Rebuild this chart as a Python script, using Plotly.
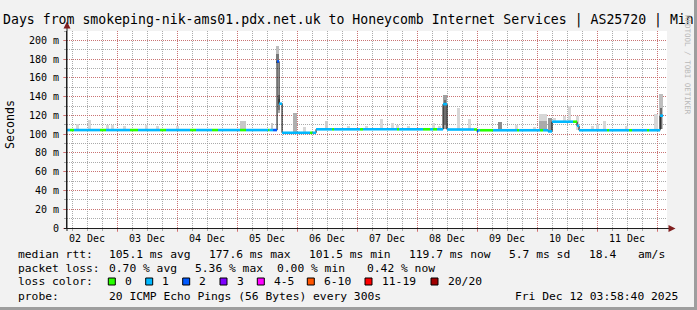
import plotly.graph_objects as go
from datetime import datetime, timedelta

# ---------------- data ----------------
START = "2025-12-02 03:58:40"
END = "2025-12-12 03:58:40"

day_ticks = ["2025-12-%02d" % d for d in range(3, 13)]
day_labels = ["%02d Dec" % d for d in range(2, 12)]

y_ticks = [0, 20, 40, 60, 80, 100, 120, 140, 160, 180, 200]
y_labels = ["0"] + ["%d m" % v for v in y_ticks[1:]]

# median rtt (ms) as step segments: start time "DD HH:MM", value, loss bin index
seg_time = ["02 03:59", "02 05:10", "02 06:48", "02 17:10", "02 19:35", "03 05:10", "03 08:24",
            "03 17:12", "03 19:36", "04 05:12", "04 07:36", "04 14:00", "04 16:24", "05 01:12",
            "05 03:36", "05 12:24", "05 13:00", "05 14:24", "05 16:00", "05 16:48", "05 18:00",
            "06 05:12", "06 06:12", "06 07:36", "06 14:00", "06 14:48", "07 01:12", "07 02:24",
            "07 16:00", "07 16:48", "08 02:24", "08 05:12", "08 06:24", "08 08:00", "08 10:24",
            "08 12:00", "08 22:48", "09 00:00", "09 00:24", "09 01:12", "09 06:24", "09 16:00",
            "09 16:48", "10 01:12", "10 02:24", "10 04:24", "10 06:00", "10 14:24", "10 16:00",
            "10 16:48", "11 04:00", "11 04:48", "11 12:48", "11 14:00", "11 20:00", "11 20:48",
            "12 01:12"]
seg_median = [104.4, 104.4, 104.4, 104.4, 104.4, 104.4, 104.4,
              104.4, 104.4, 104.4, 104.4, 104.4, 104.4, 104.4,
              104.4, 104.4, 104.4, 104.4, 177.6, 132.5, 101.5,
              101.5, 101.5, 105.2, 105.2, 105.2, 105.2, 105.2,
              105.2, 105.2, 105.2, 105.2, 105.2, 105.2, 132.0,
              105.0, 105.0, 102.8, 104.2, 104.2, 104.2, 104.2,
              104.2, 104.2, 104.2, 103.0, 113.3, 113.3, 109.0,
              104.2, 104.2, 104.2, 104.2, 104.2, 104.2, 104.2,
              119.7]
seg_loss = [1, 0, 1, 0, 1, 0, 1,
            0, 1, 0, 1, 0, 1, 0,
            1, 0, 1, 2, 2, 1, 1,
            0, 1, 1, 0, 1, 0, 1,
            0, 1, 0, 1, 0, 1, 1,
            1, 0, 2, 1, 0, 1, 0,
            1, 0, 1, 1, 1, 0, 1,
            1, 0, 1, 0, 1, 0, 1,
            1]
median_end = "12 02:24"

# smoke (ping spread): centre time, low ms, high ms, grey level, width (hours)
smoke_time = ["02 08:00", "02 13:10", "02 20:20", "02 22:20", "03 02:50", "03 11:35", "03 16:00",
              "04 00:00", "05 02:20", "05 14:00", "05 16:00", "05 16:00", "05 16:48", "05 16:48",
              "05 23:10", "06 03:10", "06 11:35", "06 20:45", "07 03:35", "07 09:35", "07 14:00",
              "07 16:00", "07 20:45", "08 06:25", "08 09:10", "08 11:10", "08 11:10", "08 16:45",
              "08 21:10", "09 09:10", "09 15:35", "09 23:10", "10 02:20", "10 02:20", "10 05:10",
              "10 07:10", "10 11:10", "10 13:10", "10 16:20", "10 22:00", "11 00:00", "11 03:10",
              "11 11:35", "11 23:35", "12 01:35", "12 01:35"]
smoke_lo = [104.4, 104.4, 104.4, 104.4, 104.4, 104.4, 104.4,
            104.4, 104.4, 104.4, 176.0, 176.0, 122.7, 126.0,
            101.5, 101.5, 105.2, 105.2, 105.2, 105.2, 105.2,
            105.2, 105.2, 105.2, 105.2, 105.2, 110.0, 105.0,
            105.0, 104.2, 104.2, 104.2, 104.2, 104.2, 103.0,
            113.3, 113.3, 113.3, 104.2, 104.2, 104.2, 104.2,
            104.2, 104.2, 106.0, 106.0]
smoke_hi = [111.0, 115.0, 110.0, 110.0, 109.0, 110.0, 109.0,
            109.0, 114.5, 112.0, 194.0, 186.0, 142.0, 138.0,
            122.7, 108.0, 114.0, 109.0, 109.0, 116.0, 112.0,
            110.0, 109.0, 112.0, 109.0, 142.0, 136.0, 128.0,
            116.0, 112.5, 110.0, 108.0, 121.6, 114.0, 117.0,
            117.5, 119.6, 130.0, 119.6, 109.0, 111.0, 114.0,
            109.0, 121.7, 143.0, 128.0]
smoke_grey = [215, 215, 215, 215, 215, 215, 215,
              215, 200, 200, 190, 120, 170, 120,
              175, 215, 205, 215, 215, 215, 215,
              215, 215, 215, 215, 160, 110, 215,
              215, 140, 215, 215, 215, 170, 150,
              215, 215, 215, 215, 215, 215, 215,
              215, 215, 190, 110]
smoke_width_h = [1.2, 1.2, 1.2, 1.2, 1.2, 1.2, 1.2,
                 1.2, 2.4, 1.0, 1.2, 1.2, 1.0, 1.0,
                 1.4, 1.2, 1.2, 1.2, 1.2, 1.2, 1.2,
                 1.2, 1.2, 1.2, 1.2, 1.4, 1.0, 1.2,
                 1.2, 1.6, 1.2, 1.2, 3.0, 3.0, 1.6,
                 1.2, 1.2, 1.2, 1.2, 1.2, 1.2, 1.2,
                 1.2, 1.6, 1.4, 1.0]

loss_names = ["0", "1", "2", "3", "4-5", "6-10", "11-19", "20/20"]
loss_colors = ["#26ff00", "#00b8ff", "#0059ff", "#7e00ff", "#ff00ff", "#ff5500", "#ff0000", "#a00000"]

stats_rtt = ["105.1 ms avg", "177.6 ms max", "101.5 ms min", "119.7 ms now", "5.7 ms sd", "18.4", "am/s"]
stats_loss = ["0.70 % avg", "5.36 % max", "0.00 % min", "0.42 % now"]
probe_text = "20 ICMP Echo Pings (56 Bytes) every 300s"
stamp_text = "Fri Dec 12 03:58:40 2025"
title_text = "Days from smokeping-nik-ams01.pdx.net.uk to Honeycomb Internet Services | AS25720 | Min"

# ---------------- helpers ----------------
def t(s):
    d, hm = s.split()
    h, m = hm.split(":")
    return datetime(2025, 12, int(d), int(h), int(m))

W, H = 697, 310
L, R, T, B = 67, 30, 31, 82
PW, PH = W - L - R, H - T - B

def fx(px):
    return (px - L) / PW

def fy(py):
    return (H - B - py) / PH

MONO = "DejaVu Sans Mono"
FS = 11.3

fig = go.Figure()

# smoke
for i in range(len(smoke_time)):
    g = smoke_grey[i]
    fig.add_trace(go.Bar(
        x=[t(smoke_time[i])], y=[smoke_hi[i] - smoke_lo[i]], base=[smoke_lo[i]],
        width=[smoke_width_h[i] * 3600 * 1000],
        marker=dict(color="rgb(%d,%d,%d)" % (g, g, g), line=dict(width=0)),
        showlegend=False, hoverinfo="skip"))

# black median line (all steps)
xs = [t(s) for s in seg_time] + [t(median_end)]
ys = seg_median + [seg_median[-1]]
fig.add_trace(go.Scatter(x=xs, y=ys, mode="lines", line=dict(color="#000000", width=1, shape="hv"),
                         showlegend=False, hoverinfo="skip"))

# coloured median by loss
for k in range(len(loss_colors)):
    cx, cy = [], []
    for i in range(len(seg_time)):
        if seg_loss[i] != k:
            continue
        t0 = t(seg_time[i])
        t1 = xs[i + 1]
        cx += [t0, t1, None]
        cy += [seg_median[i], seg_median[i], None]
    if cx:
        fig.add_trace(go.Scatter(x=cx, y=cy, mode="lines", line=dict(color=loss_colors[k], width=2.6),
                                 showlegend=False, hoverinfo="skip", connectgaps=False))

GRID = "rgba(143,143,143,0.75)"
MGRID = "rgba(222,79,79,0.6)"

fig.update_layout(
    width=W, height=H, margin=dict(l=L, r=R, t=T, b=B, pad=0),
    paper_bgcolor="#f2f2f2", plot_bgcolor="#ffffff",
    barmode="overlay", bargap=0, showlegend=False,
    font=dict(family=MONO, size=10, color="#000000"),
    xaxis=dict(type="date", range=[START, END], tickmode="array", tickvals=day_ticks, ticktext=day_labels,
               ticklabelshift=-30, ticklabelstandoff=-2, showgrid=True, gridcolor=MGRID, griddash="1px,1px",
               gridwidth=1, ticks="outside", ticklen=3, tickcolor=MGRID, showline=True, linecolor="#1f1f1f",
               linewidth=1, zeroline=False, tickfont=dict(family=MONO, size=10),
               minor=dict(dtick=6 * 3600 * 1000, tick0="2025-12-02", showgrid=True, gridcolor=GRID,
                          griddash="1px,1px", gridwidth=1, ticks="outside", ticklen=2, tickcolor=GRID)),
    yaxis=dict(range=[0, 210], tickmode="array", tickvals=y_ticks, ticktext=y_labels,
               showgrid=True, gridcolor=MGRID, griddash="1px,1px", gridwidth=1,
               ticks="outside", ticklen=3, tickcolor=MGRID, showline=True, linecolor="#1f1f1f", linewidth=1,
               zeroline=False, tickfont=dict(family=MONO, size=10), ticklabelstandoff=2,
               minor=dict(dtick=10, showgrid=True, gridcolor=GRID, griddash="1px,1px", gridwidth=1,
                          ticks="outside", ticklen=2, tickcolor=GRID)),
)

ann = []

def text(px, py, s, size=FS, anchor="left", color="#000000", angle=0):
    ann.append(dict(xref="paper", yref="paper", x=fx(px), y=fy(py), text=s, showarrow=False,
                    xanchor=anchor, yanchor="middle", textangle=angle,
                    font=dict(family=MONO, size=size, color=color)))

text(1, 19.5, title_text, size=13.2)
text(10, 125, "Seconds", size=11.6, anchor="center", angle=-90)
text(688, 65, "RRDTOOL / TOBI OETIKER", size=7.5, anchor="center", color="#b8b8b8", angle=90)

# legend lines
text(16, 254, "median rtt:")
for s, px in zip(stats_rtt, [107.3, 207.3, 306.7, 407.3, 507.3, 586.7, 635.7]):
    text(px, 254, s)
text(16, 268, "packet loss:")
for s, px in zip(stats_loss, [107.3, 192.7, 275.0, 365.0]):
    text(px, 268, s)
text(16, 281.7, "loss color:")
sq_x = [108.3, 145.7, 182.7, 220.0, 257.3, 307.3, 365.0, 431.0]
shapes = []
for name, col, px in zip(loss_names, loss_colors, sq_x):
    shapes.append(dict(type="rect", xref="paper", yref="paper", x0=fx(px), x1=fx(px + 7), y0=fy(285),
                       y1=fy(278), fillcolor=col, line=dict(color="#000000", width=1)))
    text(px + 14.5, 281.7, name)
text(16, 296, "probe:")
text(107.3, 296, probe_text)
text(680, 296, stamp_text, anchor="right")

fig.update_layout(annotations=ann)

# axis arrows / extensions and frame shading
AX = "#1f1f1f"
ARROW = "#801f1f"
shapes += [
    dict(type="line", xref="paper", yref="paper", x0=fx(67), x1=fx(67), y0=fy(231), y1=fy(26),
         line=dict(color=AX, width=1)),
    dict(type="path", xref="paper", yref="paper",
         path="M %f %f L %f %f L %f %f Z" % (fx(63.5), fy(28.5), fx(70.5), fy(28.5), fx(67), fy(21.5)),
         fillcolor=ARROW, line=dict(color=ARROW, width=0)),
    dict(type="line", xref="paper", yref="paper", x0=fx(64), x1=fx(670), y0=fy(228.5), y1=fy(228.5),
         line=dict(color=AX, width=1)),
    dict(type="path", xref="paper", yref="paper",
         path="M %f %f L %f %f L %f %f Z" % (fx(668.5), fy(225), fx(668.5), fy(232), fx(675.5), fy(228.5)),
         fillcolor=ARROW, line=dict(color=ARROW, width=0)),
    dict(type="rect", xref="paper", yref="paper", x0=fx(694), x1=fx(697), y0=fy(0), y1=fy(310),
         fillcolor="#9e9e9e", line=dict(width=0), layer="above"),
    dict(type="rect", xref="paper", yref="paper", x0=fx(0), x1=fx(697), y0=fy(307), y1=fy(310),
         fillcolor="#9e9e9e", line=dict(width=0), layer="above"),
]
fig.update_layout(shapes=shapes)

fig.write_html("out.html")
